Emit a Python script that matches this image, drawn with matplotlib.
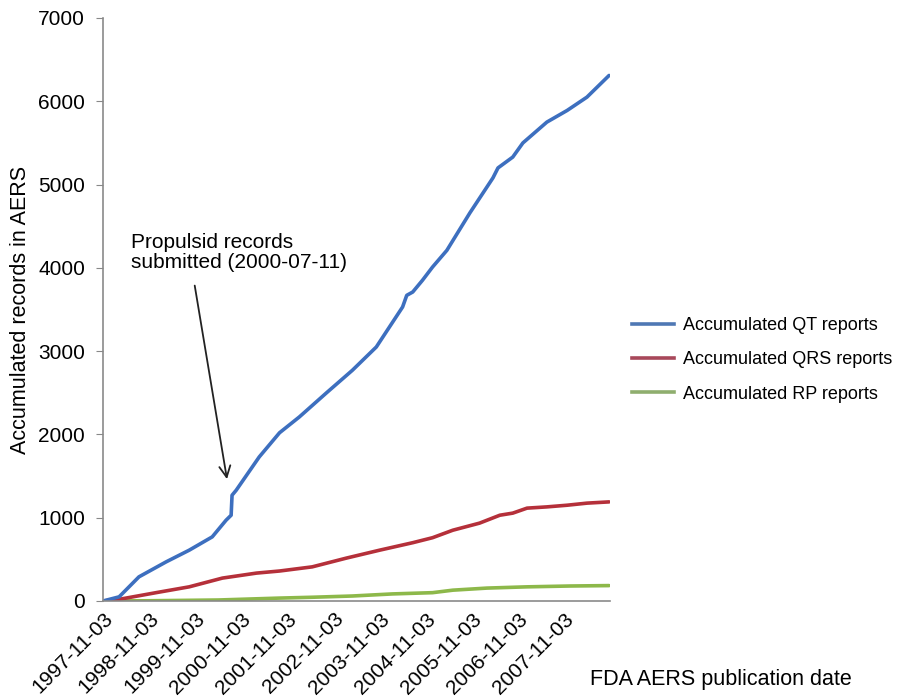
import matplotlib
matplotlib.use("Agg")
import matplotlib.pyplot as plt
from matplotlib.lines import Line2D

plt.rcParams['font.family'] = ['Liberation Sans', 'DejaVu Sans']

# x = years since 1997-11-03
qt_x = [0, 0.35, 0.78, 1.37, 1.87, 2.37, 2.67, 2.78, 2.80, 2.89, 3.39, 3.83, 4.26, 4.85,
        5.41, 5.93, 6.50, 6.59, 6.72, 6.93, 7.15, 7.46, 7.96, 8.46, 8.57, 8.89, 9.11,
        9.63, 10.07, 10.50, 10.98]
qt_y = [0, 50, 290, 470, 610, 770, 970, 1030, 1270, 1330, 1730, 2020, 2210, 2500,
        2770, 3050, 3530, 3670, 3710, 3850, 4010, 4210, 4660, 5080, 5200, 5330, 5500,
        5750, 5890, 6050, 6310]

qrs_x = [0, 0.35, 1.15, 1.87, 2.59, 3.33, 3.83, 4.54, 5.28, 6.0, 6.72, 7.15, 7.59, 8.17,
         8.61, 8.89, 9.2, 9.63, 10.07, 10.5, 10.98]
qrs_y = [0, 20, 100, 170, 275, 335, 360, 410, 515, 610, 700, 760, 850, 935,
         1030, 1055, 1115, 1130, 1150, 1175, 1190]

rp_x = [0, 1.0, 2.5, 3.83, 4.54, 5.41, 6.28, 7.15, 7.59, 8.33, 9.2, 10.13, 10.98]
rp_y = [0, 3, 12, 35, 45, 60, 85, 100, 130, 155, 170, 180, 185]

tick_labels = ['1997-11-03', '1998-11-03', '1999-11-03', '2000-11-03', '2001-11-03',
               '2002-11-03', '2003-11-03', '2004-11-03', '2005-11-03', '2006-11-03',
               '2007-11-03']
y_ticks = [0, 1000, 2000, 3000, 4000, 5000, 6000, 7000]
series_labels = ['Accumulated QT reports', 'Accumulated QRS reports', 'Accumulated RP reports']

fig = plt.figure(figsize=(8.97, 6.96), dpi=100)
ax = fig.add_axes([103/897, 1-601/696, (610-103)/897, (601-18)/696])

c_qt = '#3d6fbf'
c_qrs = '#b5303a'
c_rp = '#8db84a'
ax.plot(rp_x, rp_y, color=c_rp, lw=2.6, solid_capstyle='round', solid_joinstyle='round')
ax.plot(qrs_x, qrs_y, color=c_qrs, lw=2.6, solid_capstyle='round', solid_joinstyle='round')
ax.plot(qt_x, qt_y, color=c_qt, lw=2.6, solid_capstyle='round', solid_joinstyle='round')

ax.set_xlim(0, 11.0)
ax.set_ylim(0, 7000)
ax.set_yticks(y_ticks)
ax.set_yticklabels([str(v) for v in y_ticks], fontsize=15)
ax.set_xticks(range(len(tick_labels)))
ax.set_xticklabels(tick_labels, rotation=45, ha='right', rotation_mode='anchor', fontsize=15)
ax.tick_params(axis='x', length=0, pad=6)
ax.tick_params(axis='y', direction='out', length=5, color='#888888', pad=8)
for s in ['top', 'right']:
    ax.spines[s].set_visible(False)
for s in ['left', 'bottom']:
    ax.spines[s].set_color('#8a8a8a')
    ax.spines[s].set_linewidth(1.2)

ax.set_ylabel('Accumulated records in AERS', fontsize=15.5, labelpad=5)
fig.text(590/897, 1-680/696, 'FDA AERS publication date', fontsize=15.5, ha='left', va='center')

ax.text(0.61, 4420, 'Propulsid records\nsubmitted (2000-07-11)', fontsize=15,
        ha='left', va='top', linespacing=1.1)
ax.annotate('', xy=(2.70, 1430), xytext=(1.98, 3820),
            arrowprops=dict(arrowstyle='->', color='#222222', lw=1.3, mutation_scale=20))

handles = [Line2D([], [], color='#4f78b4', lw=2.6),
           Line2D([], [], color='#a8485a', lw=2.6),
           Line2D([], [], color='#8fae6e', lw=2.6)]
fig.legend(handles, series_labels, loc='center left', bbox_to_anchor=(632/897, 1-360/696),
           frameon=False, fontsize=13, handlelength=2.3, labelspacing=0.95,
           handletextpad=0.5, borderpad=0, borderaxespad=0)

fig.savefig('out.png', dpi=100)
